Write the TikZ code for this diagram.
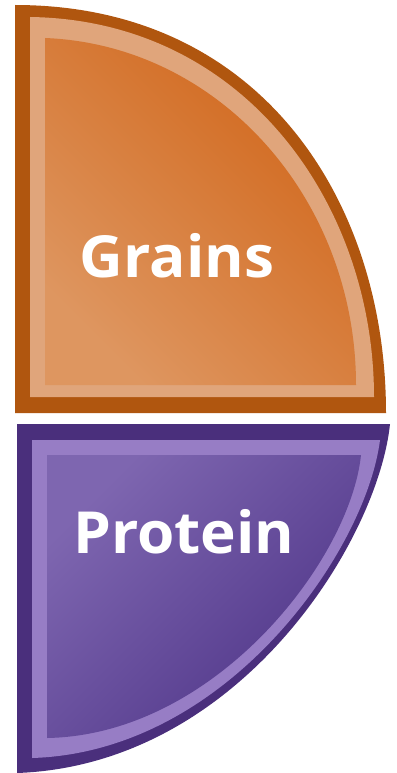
\documentclass[tikz,border=0pt]{standalone}
\usepackage{fontspec}
\setmainfont{Open Sans}
\definecolor{orDark}{HTML}{B0560F}
\definecolor{orLight}{HTML}{E0A57B}
\definecolor{orFillA}{HTML}{D1661A}
\definecolor{orFillM}{HTML}{D2691E}
\definecolor{orFillB}{HTML}{DE9660}
\definecolor{puDark}{HTML}{4A2F7C}
\definecolor{puLight}{HTML}{977DC5}
\definecolor{puFillA}{HTML}{7E66B0}
\definecolor{puFillM}{HTML}{60479A}
\definecolor{puFillB}{HTML}{4F3588}
\tikzset{
  foodtext/.style={text=white, inner sep=0pt, anchor=base, xscale=1.04,
    font=\fontsize{58}{62}\selectfont\bfseries}
}
\begin{document}
\begin{tikzpicture}[x=1pt,y=-1pt]
\useasboundingbox (0,0) rectangle (396,773);
\fill[white] (0,0) rectangle (396,773);
% Grains
\fill[orDark] (15,5) .. controls (260,5) and (386,200) .. (386,413) -- (15,413) -- cycle;
\fill[orLight] (30,17) .. controls (245,20) and (374,205) .. (374,397) -- (30,397) -- cycle;
\shade[top color=orFillA, middle color=orFillM, bottom color=orFillB, shading angle=-45]
  (45,38) .. controls (220,45) and (356,200) .. (356,385) -- (45,385) -- cycle;
\node[foodtext] (grains) at (177,277) {Grains};
% Protein
\fill[puDark] (17,424) -- (390,424) .. controls (378,540) and (240,765) .. (17,773) -- cycle;
\fill[puLight] (32,440) -- (380,440) .. controls (366,550) and (228,752) .. (32,758) -- cycle;
\shade[top color=puFillA, middle color=puFillM, bottom color=puFillB, shading angle=45]
  (47,455) -- (361,455) .. controls (350,560) and (215,735) .. (47,738) -- cycle;
\node[foodtext] (protein) at (184,553) {Protein};
\end{tikzpicture}
\end{document}
